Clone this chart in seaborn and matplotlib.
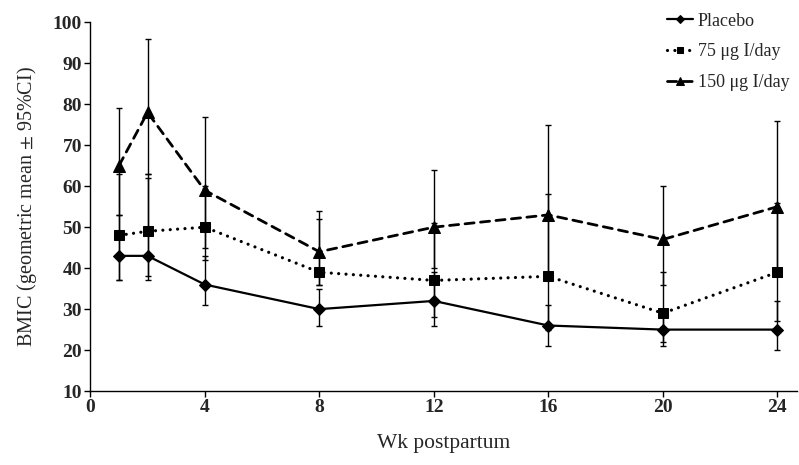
import numpy as np
import pandas as pd
import seaborn as sns
import matplotlib.pyplot as plt

# Weeks postpartum
weeks = [1, 2, 4, 8, 12, 16, 20, 24]

# Geometric means and 95% CI bounds
placebo = [43, 43, 36, 30, 32, 26, 25, 25]
placebo_lo = [37, 37, 31, 26, 26, 21, 21, 20]
placebo_hi = [53, 62, 43, 35, 39, 31, 29, 32]

dose75 = [48, 49, 50, 39, 37, 38, 29, 39]
dose75_lo = [37, 38, 42, 36, 28, 25, 22, 27]
dose75_hi = [63, 63, 60, 52, 51, 58, 39, 56]

dose150 = [65, 78, 59, 44, 50, 53, 47, 55]
dose150_lo = [53, 63, 45, 36, 40, 38, 36, 39]
dose150_hi = [79, 96, 77, 54, 64, 75, 60, 76]

labels = ["Placebo", "75 μg I/day", "150 μg I/day"]

sns.set_style("white")
plt.rcParams["font.family"] = ["Liberation Serif", "DejaVu Serif"]
plt.rcParams["mathtext.fontset"] = "stix"

fig = plt.figure(figsize=(7.99, 4.65), dpi=100)
ax = fig.add_axes([0.113, 0.159, 0.885, 0.793])

series = [
    (placebo, placebo_lo, placebo_hi, "-", "D", 6, 1.6),
    (dose75, dose75_lo, dose75_hi, (0, (0.01, 2.3)), "s", 6.5, 2.3),
    (dose150, dose150_lo, dose150_hi, (0, (3.3, 2.3)), "^", 8, 2.0),
]

for (vals, lo, hi, ls, mk, ms, lw), lab in zip(series, labels):
    df = pd.DataFrame({"week": weeks, "bmic": vals})
    yerr = [np.array(vals) - np.array(lo), np.array(hi) - np.array(vals)]
    ax.errorbar(weeks, vals, yerr=yerr, fmt="none", ecolor="black",
                elinewidth=1.0, capsize=2.5, capthick=1.0, zorder=2)
    sns.lineplot(data=df, x="week", y="bmic", ax=ax, color="black",
                 marker=mk, markersize=ms, markeredgecolor="black",
                 linewidth=lw, label=lab, zorder=3)
    l = ax.lines[-1]
    l.set_linestyle(ls)
    l.set_dash_capstyle("round")

ax.set_xlim(0, 24.7)
ax.set_ylim(10, 100)
ax.set_xticks(range(0, 25, 4))
ax.set_yticks(range(10, 101, 10))
for s in ["top", "right"]:
    ax.spines[s].set_visible(False)
for s in ["left", "bottom"]:
    ax.spines[s].set_color("black")
    ax.spines[s].set_linewidth(1.0)
ax.tick_params(axis="both", direction="out", length=4, width=1, color="black",
               labelsize=14, pad=2, left=True, bottom=True)
for t in ax.get_xticklabels() + ax.get_yticklabels():
    t.set_fontweight("bold")

ax.set_xlabel("Wk postpartum", fontsize=15.5, labelpad=13)
ax.set_ylabel("BMIC (geometric mean $\\pm$ 95%CI)", fontsize=14.5, labelpad=10)

leg = ax.legend(loc="upper right", bbox_to_anchor=(1.012, 1.07), frameon=False,
                fontsize=13, handlelength=1.4, handletextpad=0.3,
                labelspacing=0.75, markerscale=0.75)

fig.savefig("out.png", dpi=100)
